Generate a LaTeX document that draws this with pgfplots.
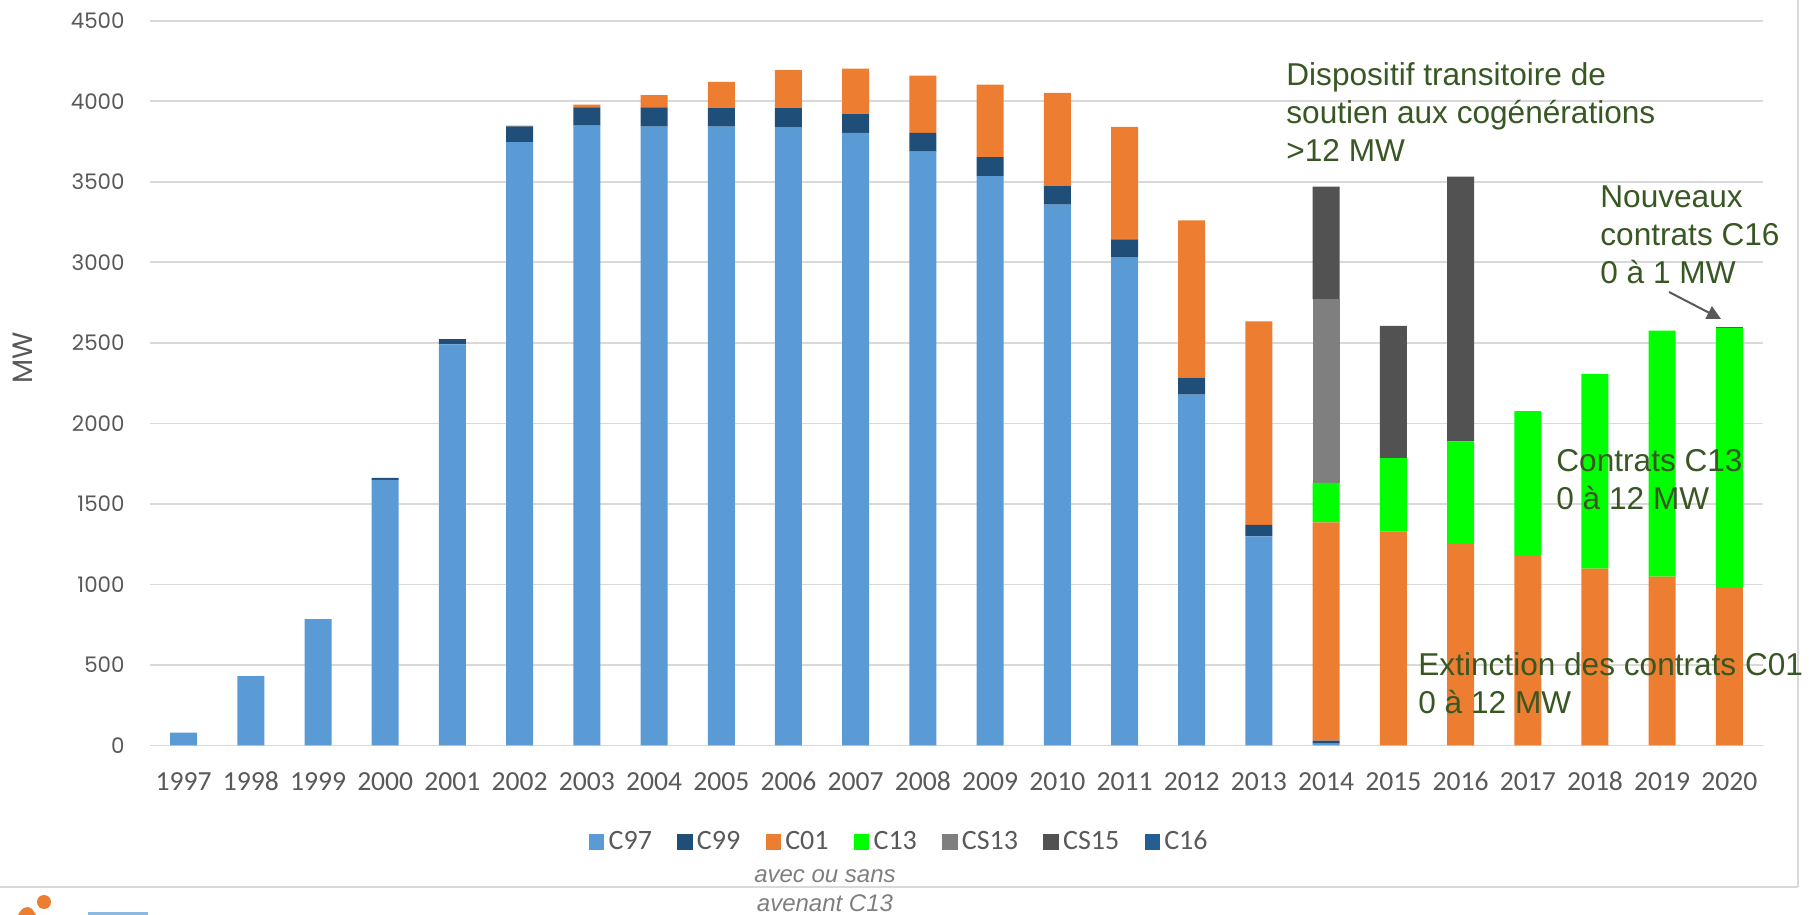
\documentclass[border=0pt]{standalone}
\usepackage{fontspec}
\setmainfont{Carlito}
\newfontfamily\pop{Poppins}
\newfontfamily\arial{Liberation Sans}
\usepackage{pgfplots}
\usepackage{pgfplotstable}
\pgfplotsset{compat=1.18}
\usetikzlibrary{arrows.meta}
\definecolor{cCns}{HTML}{5B9BD5}
\definecolor{cCnn}{HTML}{1F4E79}
\definecolor{cCzo}{HTML}{ED7D31}
\definecolor{cCot}{HTML}{00FF00}
\definecolor{cCSot}{HTML}{7F7F7F}
\definecolor{cCSof}{HTML}{525252}
\definecolor{cCos}{HTML}{255E91}
\definecolor{tickgray}{HTML}{595959}
\definecolor{annot}{HTML}{385723}
\definecolor{framegray}{HTML}{D9D9D9}

\pgfplotstableread{
x  C97  C99  C01  C13  CS13 CS15 C16
0  80   0    0    0    0    0    0
1  430  0    0    0    0    0    0
2  785  0    0    0    0    0    0
3  1650 12   0    0    0    0    0
4  2490 34   0    0    0    0    0
5  3746 99   4    0    0    0    0
6  3849 114  16   0    0    0    0
7  3843 120  76   0    0    0    0
8  3843 114  163  0    0    0    0
9  3839 118  237  0    0    0    0
10 3804 117  282  0    0    0    0
11 3688 116  355  0    0    0    0
12 3535 118  450  0    0    0    0
13 3359 114  579  0    0    0    0
14 3030 112  699  0    0    0    0
15 2178 107  975  0    0    0    0
16 1298 72   1263 0    0    0    0
17 12   18   1356 244  1140 700  0
18 0    0    1330 455  0    820  0
19 0    0    1256 632  0    1645 0
20 0    0    1176 901  0    0    0
21 0    0    1098 1208 0    0    0
22 0    0    1048 1528 0    0    0
23 0    0    978  1615 0    0    8
}\data

\begin{document}
\begin{tikzpicture}
\useasboundingbox (0,0) rectangle (907pt,457.5pt);
\begin{axis}[
  at={(75pt,84.75pt)}, anchor=south west,
  scale only axis, width=806.5pt, height=362.35pt,
  ybar stacked, bar width=13.5pt,
  xmin=-0.5, xmax=23.5, ymin=0, ymax=4500,
  enlargelimits=false,
  axis line style={draw=none},
  tick style={draw=none},
  ymajorgrids, grid style={draw=framegray, line width=0.9pt},
  ytick={0,500,...,4500},
  xtick={0,...,23},
  xticklabels={1997,1998,1999,2000,2001,2002,2003,2004,2005,2006,2007,2008,2009,2010,2011,2012,2013,2014,2015,2016,2017,2018,2019,2020},
  xticklabel style={font=\fontsize{13.8}{16}\selectfont, text=tickgray, anchor=base, inner sep=0pt, yshift=-22.5pt},
  yticklabel style={font=\pop\fontsize{10.7}{12}\selectfont, text=tickgray, anchor=east, inner sep=0pt, xshift=-12.5pt},
  /pgf/number format/assume math mode=true,
  /pgf/number format/1000 sep={},
  ylabel={MW},
  ylabel style={font=\pop\fontsize{14}{16}\selectfont, text=tickgray, at={(axis description cs:-0.0787,0.5344)}, anchor=center},
  legend columns=7,
  legend style={draw=none, at={(axis description cs:0.2722,-0.1332)}, anchor=west,
    inner sep=0pt, outer sep=0pt, font=\fontsize{14}{16}\selectfont, text=tickgray,
    /tikz/every even column/.append style={column sep=10.5pt},
    nodes={inner xsep=2.2pt, inner ysep=0pt}},
  legend cell align=left,
  legend image code/.code={\fill[#1] (0pt,-3.8pt) rectangle (7.6pt,3.8pt);},
]
\addplot[fill=cCns, draw=none] table[x=x, y=C97] {\data};
\addplot[fill=cCnn, draw=none] table[x=x, y=C99] {\data};
\addplot[fill=cCzo, draw=none] table[x=x, y=C01] {\data};
\addplot[fill=cCot, draw=none] table[x=x, y=C13] {\data};
\addplot[fill=cCSot, draw=none] table[x=x, y=CS13] {\data};
\addplot[fill=cCSof, draw=none] table[x=x, y=CS15] {\data};
\addplot[fill=cCos, draw=none] table[x=x, y=C16] {\data};
\legend{C97,C99,C01,C13,CS13,CS15,C16}
\end{axis}
% frame lines
\draw[framegray, line width=1pt] (0pt,14pt) -- (899pt,14pt);
\draw[framegray, line width=1pt] (899pt,14pt) -- (899pt,457.5pt);
% annotations
\begin{scope}[every node/.style={inner sep=0pt, anchor=north west, align=left, text=annot, font=\arial\fontsize{15.8}{19}\selectfont}]
\node at (643pt,426.25pt) {Dispositif transitoire de\\soutien aux cogénérations\\>12 MW};
\node at (800pt,365pt) {Nouveaux\\contrats C16\\0 à 1 MW};
\node at (778pt,233pt) {Contrats C13\\0 à 12 MW};
\node at (709pt,131.5pt) {Extinction des contrats C01\\0 à 12 MW};
\end{scope}
\draw[tickgray, line width=1pt, -{Triangle[length=7pt,width=7pt]}] (834.5pt,311.5pt) -- (860.5pt,298pt);
% italic note
\node[text=cCSot, font=\arial\itshape\fontsize{12}{14}\selectfont, inner sep=0pt] at (412.5pt,19.5pt) {avec ou sans};
\node[text=cCSot, font=\arial\itshape\fontsize{12}{14}\selectfont, inner sep=0pt] at (412.5pt,6pt) {avenant C13};
% logo fragment
\fill[cCzo] (22pt,6.5pt) circle (3.5pt);
\fill[cCzo] (9pt,0pt) .. controls (11pt,4pt) and (14pt,5pt) .. (16pt,3pt) -- (18pt,0pt) -- cycle;
\fill[cCns!70] (44pt,0pt) rectangle (74pt,1.5pt);
\end{tikzpicture}
\end{document}
